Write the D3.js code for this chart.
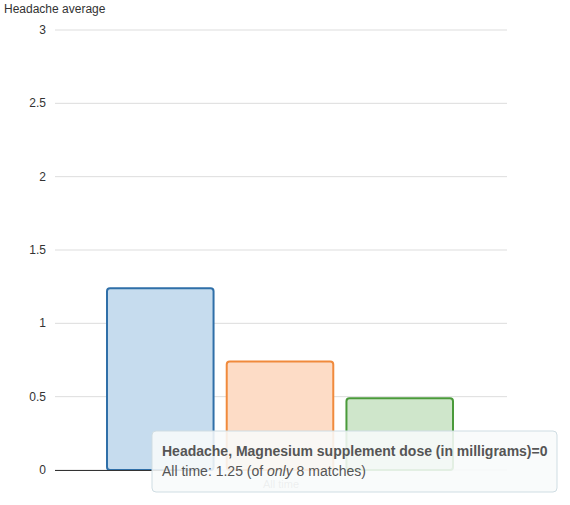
<!DOCTYPE html>
<html><head><meta charset="utf-8">
<script src="https://cdn.jsdelivr.net/npm/d3@7"></script>
<style>body{margin:0;background:#fff;font-family:"Helvetica Neue",Arial,"Liberation Sans",sans-serif}</style>
</head><body>
<svg id="c" width="570" height="505"></svg>
<script>
const categories = ["All time"];
const seriesNames = ["Magnesium supplement dose (in milligrams)=0", "Magnesium supplement dose (in milligrams)=1", "Magnesium supplement dose (in milligrams)=2"];
const seriesValues = [1.25, 0.75, 0.5];
const matches = [8, 0, 0];
const yTicks = [0, 0.5, 1, 1.5, 2, 2.5, 3];
const yTickLabels = ["0", "0.5", "1", "1.5", "2", "2.5", "3"];
const strokeColors = ["#2f6fa8", "#f08a3c", "#4a9a3a"];
const fillColors = ["#c6dcee", "#fddcc6", "#cfe6cb"];

const svg = d3.select("#c");
const y = d3.scaleLinear().domain([0, 3]).range([470, 30]);
const x0 = d3.scaleBand().domain(categories).range([55, 507]);
const x1 = d3.scaleBand().domain(d3.range(seriesValues.length)).range([x0(categories[0]) + 52, x0(categories[0]) + 398]).paddingInner(0.11);

svg.append("text").attr("x", 4).attr("y", 13).attr("font-size", 12).attr("fill", "#333").text("Headache average");

const g = svg.append("g");
yTicks.forEach((t, i) => {
  g.append("line").attr("x1", 55).attr("x2", 507).attr("y1", y(t)).attr("y2", y(t)).attr("stroke", "#ddd");
  g.append("text").attr("x", 46).attr("y", y(t) + 4).attr("text-anchor", "end").attr("font-size", 12).attr("fill", "#333").text(yTickLabels[i]);
});

seriesValues.forEach((v, i) => {
  svg.append("rect").attr("x", x1(i)).attr("y", y(v) + 1.5).attr("width", x1.bandwidth()).attr("height", y(0) - y(v) - 1.5)
    .attr("rx", 3).attr("fill", fillColors[i]).attr("stroke", strokeColors[i]).attr("stroke-width", 2);
});
svg.append("line").attr("x1", 55).attr("x2", 200).attr("y1", y(0) + 0.5).attr("y2", y(0) + 0.5).attr("stroke", "#333");
svg.append("text").attr("x", x0(categories[0]) + x0.bandwidth() / 2 - 0).attr("y", 488).attr("text-anchor", "middle")
  .attr("font-size", 11).attr("fill", "#999").text(categories[0]);

// tooltip
const tt = svg.append("g");
tt.append("rect").attr("x", 152).attr("y", 431).attr("width", 405).attr("height", 61).attr("rx", 4)
  .attr("fill", "rgba(248,250,251,0.88)").attr("stroke", "#cfdde3");
tt.append("text").attr("x", 162).attr("y", 456).attr("font-size", 14).attr("font-weight", "bold").attr("fill", "#555")
  .text("Headache, " + seriesNames[0]);
const t2 = tt.append("text").attr("x", 162).attr("y", 476).attr("font-size", 14).attr("fill", "#555");
t2.append("tspan").text("All time: " + seriesValues[0] + " (of ");
t2.append("tspan").attr("font-style", "italic").text("only");
t2.append("tspan").text(" " + matches[0] + " matches)");
</script>
</body></html>
